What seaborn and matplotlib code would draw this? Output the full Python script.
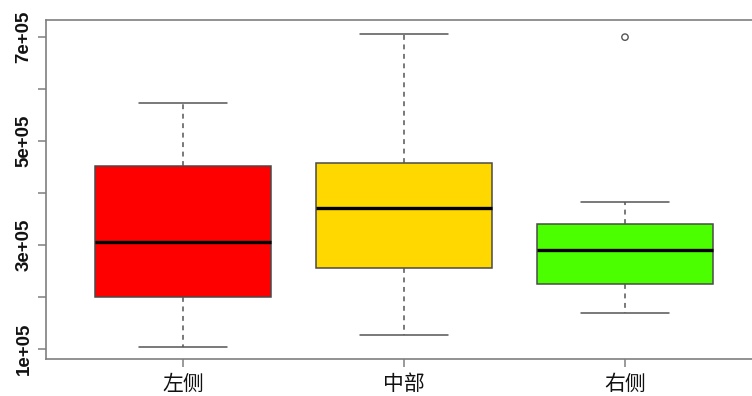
import numpy as np
import pandas as pd
import matplotlib
matplotlib.use("Agg")
import matplotlib.pyplot as plt
import seaborn as sns

# Regions and their five-number summaries (whisker ends, quartiles, median)
regions = ["左侧", "中部", "右侧"]
lower_whisker = [1.04e5, 1.26e5, 1.70e5]
q1 = [1.99e5, 2.56e5, 2.25e5]
median = [3.05e5, 3.71e5, 2.90e5]
q3 = [4.52e5, 4.58e5, 3.40e5]
upper_whisker = [5.73e5, 7.06e5, 3.83e5]

# Points beyond the whiskers
outlier_region = ["右侧"]
outlier_value = [7.0e5]

fill_colors = ["#ff0000", "#ffd800", "#4cff00"]

y_ticks = [1e5, 2e5, 3e5, 4e5, 5e5, 6e5, 7e5]
y_tick_labels = ["1e+05", "", "3e+05", "", "5e+05", "", "7e+05"]

rows = []
for i, r in enumerate(regions):
    for v in (lower_whisker[i], q1[i], median[i], q3[i], upper_whisker[i]):
        rows.append({"region": r, "value": v})
df = pd.DataFrame(rows)

sns.set_style("white")
fig = plt.figure(figsize=(7.52, 3.96), dpi=100)
ax = fig.add_axes([46 / 752, 1 - 359 / 396, (762 - 46) / 752, (359 - 20) / 396])

line_col = "#4a4a4a"
sns.boxplot(
    data=df, x="region", y="value", hue="region", order=regions,
    hue_order=regions, palette=fill_colors, legend=False,
    width=0.8, whis=1.5, linecolor=line_col, linewidth=1.1,
    showfliers=False, saturation=1,
    whiskerprops={"linestyle": (0, (3.2, 3.0)), "color": "#555555"},
    capprops={"color": "#555555"},
    medianprops={"color": "black", "linewidth": 2.4},
    ax=ax,
)

sns.stripplot(x=outlier_region, y=outlier_value, order=regions, jitter=False,
              marker="o", size=4.6, color="#555555", ax=ax)
pts = ax.collections[-1]
pts.set_facecolor("none")
pts.set_edgecolor("#555555")
pts.set_linewidth(1.0)

ax.set_xlim(-0.62, 2.62)
ax.set_ylim(0.805e5, 7.33e5)
ax.set_xlabel("")
ax.set_ylabel("")

ax.set_yticks(y_ticks)
ax.set_yticklabels(y_tick_labels, rotation=90, va="center",
                   fontfamily="Liberation Sans", fontweight="bold", fontsize=13.5)
ax.set_xticks(range(len(regions)))
ax.set_xticklabels(regions, fontfamily=["Noto Sans CJK SC", "DejaVu Sans"], fontsize=15)

ax.tick_params(axis="both", which="both", length=5.8, width=1.1, color="#7f7f7f",
               direction="out", left=True, bottom=True, labelcolor="#111111")
ax.tick_params(axis="y", pad=4)
ax.tick_params(axis="x", pad=4)

for s in ax.spines.values():
    s.set_visible(True)
    s.set_color("#7f7f7f")
    s.set_linewidth(1.2)

fig.savefig("out.png", dpi=100)
